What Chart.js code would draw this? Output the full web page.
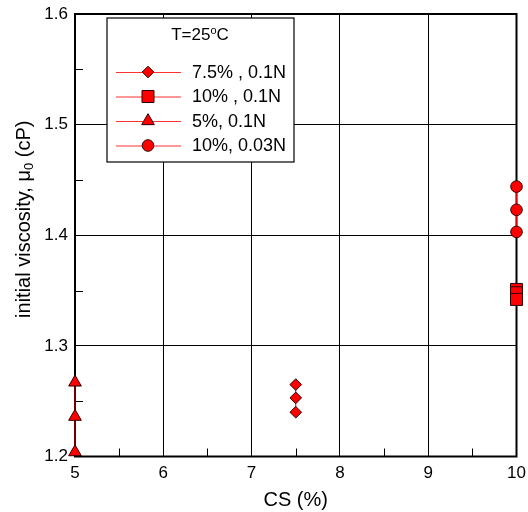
<!DOCTYPE html>
<html>
<head>
<meta charset="utf-8">
<script src="https://cdn.jsdelivr.net/npm/chart.js@4"></script>
<style>
  html, body { margin: 0; padding: 0; background: #fff; }
  #wrap { width: 528px; height: 512px; }
</style>
</head>
<body>
<div id="wrap"><canvas id="chart" width="528" height="512"></canvas></div>
<script>
const seriesLabels = ['7.5% , 0.1N', '10% , 0.1N', '5%, 0.1N', '10%, 0.03N'];
const seriesX = [7.5, 10, 5, 10];
const diamondVals = [1.240, 1.253, 1.265];
const squareVals = [1.351, 1.348, 1.342];
const triangleVals = [1.204, 1.236, 1.267];
const circleVals = [1.403, 1.423, 1.444];
const xTicks = [5, 6, 7, 8, 9, 10];
const yTicks = [1.2, 1.3, 1.4, 1.5, 1.6];
const xMinor = [5.5, 6.5, 7.5, 8.5, 9.5];
const yMinor = [1.25, 1.35, 1.45, 1.55];
const legendTitle = ['T=25', 'o', 'C'];
const yTitle = ['initial viscosity, μ', '0', ' (cP)'];

const FONT = "'Liberation Sans', Arial, sans-serif";
const shapes = ['rectRot', 'rect', 'triangle', 'circle'];
const radii = [5.8, 8.5, 7.3, 5.8];
const allVals = [diamondVals, squareVals, triangleVals, circleVals];

const datasets = allVals.map(function(vals, i) {
  return {
    label: seriesLabels[i],
    data: vals.map(function(v) { return { x: seriesX[i], y: v }; }),
    showLine: true,
    borderColor: '#e00000',
    borderWidth: 1,
    pointStyle: shapes[i],
    pointRadius: radii[i],
    pointBackgroundColor: '#ff0000',
    pointBorderColor: '#300000',
    pointBorderWidth: 1,
    clip: false
  };
});

// draws "main + subscript/superscript + rest" centred at 0,0 of the current transform
function drawScripted(c, parts, size, small, shift) {
  c.font = size + 'px ' + FONT;
  const w0 = c.measureText(parts[0]).width, w2 = c.measureText(parts[2]).width;
  c.font = small + 'px ' + FONT;
  const w1 = c.measureText(parts[1]).width;
  let x = -(w0 + w1 + w2) / 2;
  c.textAlign = 'left';
  c.textBaseline = 'middle';
  c.font = size + 'px ' + FONT;
  c.fillText(parts[0], x, 0);
  x += w0;
  c.font = small + 'px ' + FONT;
  c.fillText(parts[1], x, shift);
  x += w1;
  c.font = size + 'px ' + FONT;
  c.fillText(parts[2], x, 0);
}

// frame, inward minor ticks and y title, drawn under the points
const framePlugin = {
  id: 'frame',
  beforeDatasetsDraw(chart) {
    const c = chart.ctx, a = chart.chartArea;
    const xs = chart.scales.x, ys = chart.scales.y;
    c.save();
    c.strokeStyle = '#000';
    c.lineWidth = 1;
    c.beginPath();
    xMinor.forEach(function(v) {
      const px = Math.round(xs.getPixelForValue(v)) + 0.5;
      c.moveTo(px, a.bottom);
      c.lineTo(px, a.bottom - 8);
    });
    yMinor.forEach(function(v) {
      const py = Math.round(ys.getPixelForValue(v)) + 0.5;
      c.moveTo(a.left, py);
      c.lineTo(a.left + 8, py);
    });
    c.stroke();
    c.lineWidth = 2;
    c.strokeRect(a.left, a.top, a.right - a.left, a.bottom - a.top);
    c.translate(24, a.top + (a.bottom - a.top) / 2 - 16);
    c.rotate(-Math.PI / 2);
    c.fillStyle = '#000';
    drawScripted(c, yTitle, 20, 13, 5);
    c.restore();
  }
};

// boxed legend inside the plot area
const legendPlugin = {
  id: 'boxLegend',
  afterDatasetsDraw(chart) {
    const c = chart.ctx, a = chart.chartArea;
    const bx = a.left + 32, by = a.top + 4, bw = 187, bh = 144;
    c.save();
    c.fillStyle = '#fff';
    c.fillRect(bx, by, bw, bh);
    c.strokeStyle = '#000';
    c.lineWidth = 1.2;
    c.strokeRect(bx, by, bw, bh);
    c.fillStyle = '#000';
    c.save();
    c.translate(bx + 93, by + 17);
    drawScripted(c, legendTitle, 17, 11, -4);
    c.restore();
    c.textAlign = 'left';
    c.textBaseline = 'middle';
    c.font = '18px ' + FONT;
    chart.data.datasets.forEach(function(ds, i) {
      const y = by + 54 + i * 24.5;
      c.strokeStyle = '#ff3030';
      c.lineWidth = 1;
      c.beginPath();
      c.moveTo(bx + 9, y + 0.5);
      c.lineTo(bx + 74, y + 0.5);
      c.stroke();
      c.fillStyle = ds.pointBackgroundColor;
      c.strokeStyle = ds.pointBorderColor;
      Chart.helpers.drawPoint(c, { pointStyle: ds.pointStyle, radius: ds.pointRadius, borderWidth: 1 }, bx + 41, y);
      c.fillStyle = '#000';
      c.fillText(ds.label, bx + 85, y + 1);
    });
    c.restore();
  }
};

new Chart(document.getElementById('chart'), {
  type: 'scatter',
  data: { datasets: datasets },
  plugins: [framePlugin, legendPlugin],
  options: {
    responsive: false,
    animation: false,
    layout: { padding: { top: 14, right: 11.5, left: 0, bottom: 0 } },
    plugins: { legend: { display: false }, tooltip: { enabled: false } },
    scales: {
      x: {
        type: 'linear', min: 5, max: 10,
        afterBuildTicks: function(s) { s.ticks = xTicks.map(function(v) { return { value: v }; }); },
        afterFit: function(s) { s.height = 55.5; s.paddingLeft = 0; s.paddingRight = 0; },
        ticks: { color: '#000', font: { family: FONT, size: 17 }, padding: 7, maxRotation: 0 },
        grid: { color: '#000', lineWidth: 1, drawTicks: false },
        border: { display: false },
        title: { display: true, text: 'CS (%)', color: '#000', font: { family: FONT, size: 20 }, padding: { top: 1, bottom: 0 } }
      },
      y: {
        type: 'linear', min: 1.2, max: 1.6,
        afterBuildTicks: function(s) { s.ticks = yTicks.map(function(v) { return { value: v }; }); },
        afterFit: function(s) { s.width = 75; s.paddingTop = 0; s.paddingBottom = 0; },
        ticks: { color: '#000', font: { family: FONT, size: 17 }, padding: 7,
          callback: function(v) { return v.toFixed(1); } },
        grid: { color: '#000', lineWidth: 1, drawTicks: false },
        border: { display: false },
        title: { display: false }
      }
    }
  }
});
</script>
</body>
</html>
